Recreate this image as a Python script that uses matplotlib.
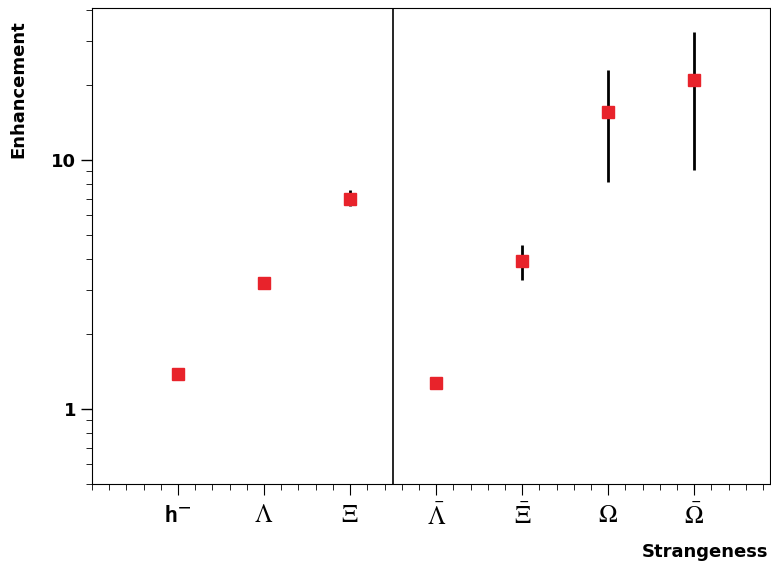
import numpy as np
import matplotlib.pyplot as plt
from matplotlib.ticker import FixedLocator, NullFormatter, MultipleLocator

plt.rcParams['mathtext.fontset'] = 'stix'

labels = [r'$\mathbf{\mathsf{h}^{-}}$', r'$\Lambda$', r'$\Xi$', r'$\bar{\Lambda}$', r'$\bar{\Xi}$', r'$\Omega$', r'$\bar{\Omega}$']
xpos = [1, 2, 3, 4, 5, 6, 7]
enh = [1.38, 3.2, 7.0, 1.27, 3.93, 15.6, 21.0]
err_lo = [0.0, 0.0, 0.45, 0.0, 0.63, 7.4, 11.9]
err_hi = [0.0, 0.0, 0.55, 0.0, 0.63, 7.4, 11.7]

fig = plt.figure(figsize=(7.71, 5.66), dpi=100)
ax = fig.add_axes([92/771, 1-484/566, 678/771, 476/566])

ax.errorbar(xpos, enh, yerr=[err_lo, err_hi], fmt='none', ecolor='black', elinewidth=2, capsize=0, zorder=2)
ax.plot(xpos, enh, 's', color='#e8232b', markersize=9, zorder=3)
ax.axvline(3.5, color='black', lw=1.2)

ax.set_yscale('log')
ax.set_ylim(0.5, 40.8)
ax.set_xlim(0, 7.88)
ax.set_yticks([1, 10])
ax.set_yticklabels(['1', '10'], fontweight='bold', fontsize=13)
ax.yaxis.set_minor_locator(FixedLocator([0.5, 0.6, 0.7, 0.8, 0.9, 2, 3, 4, 5, 6, 7, 8, 9, 20, 30, 40]))
ax.yaxis.set_minor_formatter(NullFormatter())
ax.tick_params(axis='y', which='major', direction='out', length=8, width=1)
ax.tick_params(axis='y', which='minor', direction='out', length=4)

ax.set_xticks(xpos)
ax.set_xticklabels(labels, fontsize=18)
ax.xaxis.set_minor_locator(MultipleLocator(0.2))
ax.tick_params(axis='x', which='major', direction='out', length=8, pad=6)
ax.tick_params(axis='x', which='minor', direction='out', length=4)

ax.set_ylabel('Enhancement', fontweight='bold', fontsize=13)
ax.yaxis.set_label_coords(-0.095, 0.83)
fig.text(768/771, 1-552/566, 'Strangeness', ha='right', va='center', fontweight='bold', fontsize=13)

fig.savefig('out.png', dpi=100)
